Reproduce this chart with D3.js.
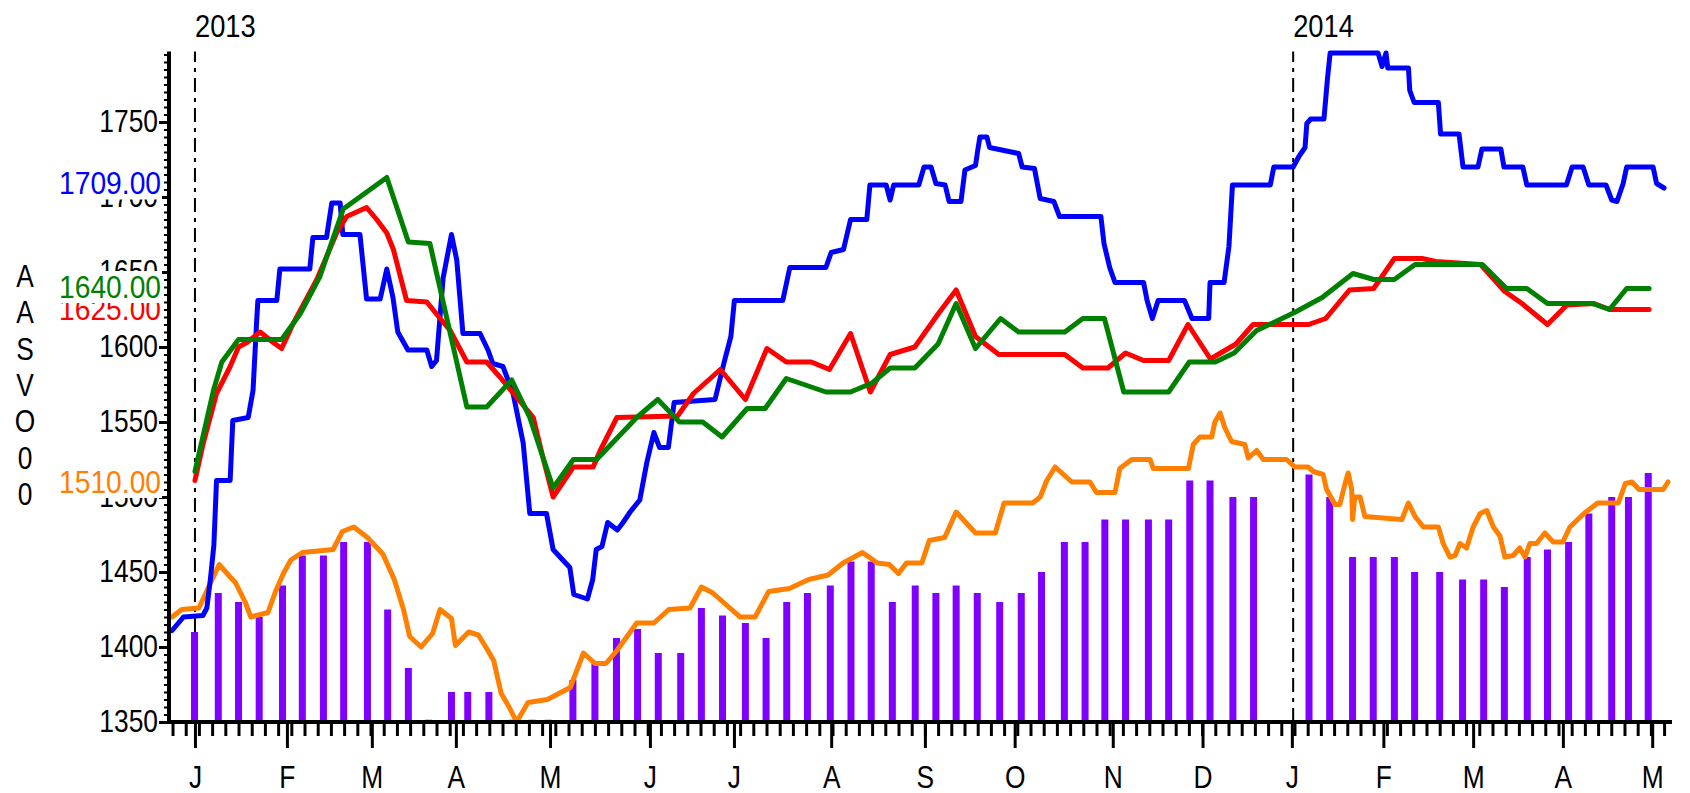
<!DOCTYPE html>
<html>
<head>
<meta charset="utf-8">
<script src="https://cdn.jsdelivr.net/npm/d3@7/dist/d3.min.js"></script>
<style>
body { margin: 0; background: #fff; }
svg text { font-family: "Liberation Sans", Arial, sans-serif; }
</style>
</head>
<body>
<svg id="svg" width="1690" height="793"></svg>
<script>
// x values are trading-day positions, y values are prices on the left scale

var monthPos = [5.9, 26.8, 46.1, 65.2, 86.6, 109.3, 128.4, 150.5, 171.8, 192.2, 214.5, 234.9, 255.2, 276.0, 296.4, 316.8, 337.1];
var monthLabels = ["J", "F", "M", "A", "M", "J", "J", "A", "S", "O", "N", "D", "J", "F", "M", "A", "M"];
var yearPos = [5.9, 255.5];
var yearLabels = ["2013", "2014"];
var yTicks = [1350, 1400, 1450, 1500, 1550, 1600, 1650, 1700, 1750];

var labelValues = [1625, 1709, 1510, 1640];
var labelTexts = ["1625.00", "1709.00", "1510.00", "1640.00"];
var labelColors = ["#ff0000", "#0000ff", "#ff8000", "#008000"];
var sideLetters = ["A", "A", "S", "V", "O", "0", "0"];

var blue = [[0.7,1411],[3.0,1419],[3.3,1420],[7.7,1421],[8.6,1426],[9.4,1445],[10.2,1468],[10.8,1511],[13.9,1511],[14.5,1551],[18.0,1553],[19.1,1571],[19.9,1616],[20.2,1631],[24.5,1631],[25.2,1652],[32.0,1652],[32.7,1673],[35.8,1673],[37.0,1696],[38.9,1696],[39.5,1675],[43.4,1675],[44.9,1632],[48.0,1632],[49.5,1652],[50.9,1633],[52.0,1610],[54.3,1598],[58.6,1598],[59.7,1587],[60.8,1591],[62.3,1646],[64.2,1675],[65.4,1658],[66.8,1609],[70.7,1609],[72.5,1598],[73.6,1589],[75.9,1587],[78.2,1569],[80.5,1536],[82.0,1489],[85.8,1489],[87.3,1465],[89.5,1458],[91.1,1453],[92.0,1435],[95.1,1432],[96.3,1445],[97.1,1465],[98.4,1467],[99.7,1483],[101.9,1478],[103.2,1483],[104.8,1490],[107.0,1498],[108.6,1523],[110.2,1543],[111.5,1533],[113.5,1533],[114.8,1563],[124.1,1565],[126.1,1589],[127.7,1607],[128.5,1631],[139.5,1631],[141.1,1653],[149.3,1653],[150.5,1663],[153.3,1665],[154.9,1685],[158.6,1685],[159.3,1708],[163.0,1708],[163.9,1698],[164.7,1708],[170.4,1708],[171.6,1720],[173.2,1720],[174.3,1709],[176.4,1708],[177.3,1697],[180.0,1697],[180.9,1718],[183.3,1721],[183.8,1731],[184.3,1740],[185.9,1740],[186.5,1733],[193.1,1729],[193.9,1720],[196.7,1719],[198.0,1699],[201.1,1697],[202.4,1687],[211.8,1687],[212.5,1669],[213.8,1653],[215.0,1643],[221.5,1643],[222.3,1631],[223.5,1619],[224.8,1631],[230.8,1631],[232.5,1619],[236.3,1619],[236.6,1643],[239.8,1643],[240.9,1667],[241.7,1708],[250.3,1708],[251.1,1720],[255.5,1720],[256.8,1727],[258.2,1733],[258.6,1749],[259.5,1752],[262.5,1752],[263.3,1779],[263.9,1796],[274.8,1796],[275.7,1787],[276.6,1796],[277.0,1786],[281.7,1786],[282.0,1771],[283.0,1763],[288.5,1763],[289.0,1742],[293.2,1742],[294.1,1720],[297.5,1720],[298.4,1732],[302.7,1732],[303.4,1720],[307.7,1720],[308.6,1708],[317.6,1708],[318.9,1720],[321.4,1720],[322.7,1708],[326.6,1708],[327.9,1698],[329.1,1697],[330.5,1709],[331.3,1720],[337.3,1720],[338.1,1709],[339.8,1706]];

var red = [[5.9,1511],[7.8,1536],[10.8,1569],[13.9,1587],[15.8,1600],[17.7,1603],[20.7,1610],[23.7,1603],[25.6,1599],[28.3,1616],[33.6,1645],[38.1,1676],[40.4,1687],[44.9,1693],[47.2,1685],[49.5,1676],[51.0,1665],[54.0,1631],[58.6,1630],[60.8,1622],[63.9,1611],[67.7,1590],[72.2,1590],[75.2,1580],[78.3,1569],[82.8,1553],[85.1,1525],[87.3,1500],[91.9,1520],[96.4,1520],[98.0,1531],[101.8,1553],[115.6,1554],[119.2,1569],[125.3,1585],[131.0,1565],[135.9,1599],[140.3,1590],[146.0,1590],[150.1,1585],[154.9,1609],[159.4,1570],[163.9,1595],[169.5,1600],[174.8,1622],[178.9,1638],[183.3,1607],[188.6,1595],[203.6,1595],[207.7,1586],[213.4,1586],[217.4,1596],[221.5,1591],[227.2,1591],[231.6,1615],[236.7,1592],[242.5,1602],[246.4,1615],[259.0,1615],[262.9,1619],[268.3,1638],[273.8,1639],[278.5,1659],[284.8,1659],[287.9,1657],[298.1,1655],[303.6,1637],[307.5,1629],[313.3,1615],[317.7,1628],[323.9,1629],[327.4,1625],[336.4,1625]];

var green = [[5.9,1517],[10.1,1571],[12.0,1590],[15.8,1605],[25.6,1605],[29.8,1622],[34.3,1647],[39.6,1692],[49.5,1713],[54.4,1670],[59.3,1669],[67.7,1560],[72.2,1560],[77.9,1578],[82.0,1553],[87.3,1506],[91.9,1525],[97.2,1525],[106.3,1553],[111.1,1565],[116.0,1550],[121.3,1550],[125.7,1540],[131.4,1559],[135.5,1559],[140.3,1579],[149.3,1570],[154.9,1570],[159.8,1576],[163.9,1586],[169.5,1586],[174.8,1602],[178.9,1629],[183.3,1599],[189.0,1619],[193.1,1610],[203.6,1610],[207.7,1619],[212.6,1619],[217.0,1570],[227.2,1570],[231.9,1590],[237.8,1590],[242.1,1596],[247.2,1611],[255.8,1623],[262.1,1633],[269.1,1649],[273.8,1645],[278.5,1645],[283.2,1655],[298.5,1655],[304.0,1639],[308.6,1639],[313.3,1629],[323.5,1629],[327.4,1625],[331.3,1639],[336.4,1639]];

var orange = [[0.7,1420],[2.9,1425],[6.8,1426],[9.0,1440],[11.4,1455],[13.8,1447],[15.1,1443],[17.3,1430],[18.6,1420],[22.5,1423],[24.2,1437],[26.0,1449],[27.7,1458],[30.3,1463],[37.3,1465],[39.4,1477],[42.0,1480],[45.1,1473],[48.6,1462],[51.2,1445],[53.3,1425],[54.7,1407],[57.3,1400],[59.9,1409],[61.6,1425],[64.2,1419],[65.1,1401],[68.1,1410],[70.3,1408],[72.0,1400],[73.8,1391],[75.5,1369],[77.3,1360],[79.0,1350],[81.6,1363],[86.0,1365],[88.6,1369],[91.2,1373],[94.2,1396],[96.8,1389],[99.3,1389],[101.9,1398],[106.3,1416],[110.2,1416],[113.6,1425],[118.4,1426],[121.0,1440],[123.6,1436],[126.3,1429],[129.8,1420],[133.2,1420],[136.3,1437],[141.0,1439],[145.4,1445],[149.8,1448],[153.2,1456],[157.6,1463],[161.0,1456],[163.7,1455],[165.8,1449],[167.6,1456],[171.1,1456],[172.8,1471],[176.3,1473],[178.9,1490],[183.3,1476],[187.8,1476],[189.8,1496],[196.3,1496],[198.0,1500],[199.5,1511],[201.4,1520],[205.2,1510],[209.3,1510],[210.8,1503],[215.0,1503],[216.1,1519],[218.8,1525],[223.0,1525],[223.7,1519],[231.7,1519],[232.8,1535],[234.3,1540],[237.0,1540],[237.7,1550],[238.9,1556],[240.0,1546],[241.5,1537],[244.5,1535],[245.3,1526],[247.2,1531],[248.7,1525],[254.0,1525],[255.9,1520],[258.9,1520],[260.1,1517],[262.3,1515],[263.1,1505],[265.0,1495],[266.1,1495],[267.3,1509],[268.0,1516],[268.8,1505],[269.0,1485],[269.5,1500],[270.7,1500],[271.8,1487],[280.2,1485],[281.7,1496],[283.2,1487],[285.1,1480],[288.5,1480],[289.6,1469],[291.1,1460],[292.3,1461],[293.4,1469],[294.9,1466],[296.4,1480],[298.0,1489],[299.5,1491],[301.0,1480],[302.5,1474],[303.6,1460],[305.5,1461],[307.0,1466],[308.2,1460],[309.3,1469],[310.8,1469],[312.7,1476],[314.6,1470],[316.8,1470],[318.4,1480],[321.6,1489],[324.7,1496],[329.4,1496],[331.0,1509],[332.5,1510],[334.1,1505],[339.6,1505],[340.7,1510]];

// weekly bars, own scale starting at the bottom axis
var barPos = [5.8, 11.2, 15.8, 20.5, 25.8, 30.3, 35.1, 39.7, 45.1, 49.7, 54.4, 59.0, 64.2, 67.9, 72.7, 78.0, 82.5, 86.2, 91.8, 96.8, 101.7, 106.5, 111.2, 116.3, 121.0, 125.8, 131.0, 135.7, 140.4, 145.1, 150.3, 155.0, 159.6, 164.4, 169.6, 174.3, 178.9, 183.7, 188.8, 193.7, 198.3, 203.5, 208.2, 212.7, 217.4, 222.6, 227.2, 232.0, 236.6, 241.8, 246.5, 259.1, 263.8, 269.0, 273.7, 278.5, 283.1, 288.8, 294.0, 298.8, 303.5, 308.7, 313.3, 318.1, 322.7, 327.9, 331.7, 336.2];
var barVal = [60, 86, 80, 70, 91, 111, 111, 120, 120, 75, 36, 1.5, 20, 20, 20, 1.5, 1.5, 1.5, 28, 39, 56, 62, 46, 46, 76, 71, 66, 56, 80, 86, 91, 107, 107, 80, 91, 86, 91, 86, 80, 86, 100, 120, 120, 135, 135, 135, 135, 161, 161, 150, 150, 165, 150, 110, 110, 110, 100, 100, 95, 95, 90, 110, 115, 120, 139, 150, 150, 166];

var svg = d3.select("#svg");
var fontSize = 31;
var squeeze = 0.85;   // the original uses a narrow face

var x = d3.scaleLinear().domain([0, 341.6]).range([169, 1672]);
var y = d3.scaleLinear().domain([1350, 1800]).range([722, 47]);
var barY = d3.scaleLinear().domain([0, 450]).range([722, 47]);

// place a text at (px,py) squeezed horizontally
function narrowText(sel, px, py, sx) {
    sel.attr("transform", function(d, i) {
        return "translate(" + px(d, i) + "," + py(d, i) + ") scale(" + sx + ",1)";
    });
}

// year separators
svg.append("g").selectAll("line")
    .data(yearPos)
    .enter()
    .append("line")
    .attr("x1", function(d) { return x(d); })
    .attr("x2", function(d) { return x(d); })
    .attr("y1", y(1350))
    .attr("y2", y(1797))
    .attr("stroke", "#000")
    .attr("stroke-width", 2)
    .attr("stroke-dasharray", "14,6,4,6");

svg.append("g").selectAll("text")
    .data(yearPos)
    .enter()
    .append("text")
    .attr("font-size", fontSize)
    .attr("fill", "#000")
    .text(function(d, i) { return yearLabels[i]; })
    .call(narrowText, function(d) { return x(d); }, function() { return 37; }, 0.88);

// bars
svg.append("g").selectAll("rect")
    .data(d3.zip(barPos, barVal))
    .enter()
    .append("rect")
    .attr("x", function(d) { return x(d[0]) - 3.5; })
    .attr("width", 7)
    .attr("y", function(d) { return barY(d[1]); })
    .attr("height", function(d) { return barY(0) - barY(d[1]); })
    .attr("fill", "#8000ff");

var line = d3.line()
    .x(function(d) { return x(d[0]); })
    .y(function(d) { return y(d[1]); });

var series = [[orange, "#ff8000"], [blue, "#0000ff"], [red, "#ff0000"], [green, "#008000"]];
series.forEach(function(s) {
    svg.append("path")
        .datum(s[0])
        .attr("d", line)
        .attr("fill", "none")
        .attr("stroke", s[1])
        .attr("stroke-width", 5)
        .attr("stroke-linejoin", "round")
        .attr("stroke-linecap", "round");
});

// y axis
var yMinor = d3.range(1355, 1800, 5);
svg.append("g")
    .attr("transform", "translate(169,0)")
    .call(d3.axisLeft(y).tickValues(yMinor).tickSize(5).tickFormat(""))
    .call(function(g) { g.select(".domain").remove(); })
    .selectAll("line").attr("stroke-width", 2);

var yAxis = svg.append("g")
    .attr("transform", "translate(169,0)")
    .call(d3.axisLeft(y).tickValues(yTicks).tickSize(10).tickPadding(3).tickFormat(d3.format("d")))
    .call(function(g) { g.select(".domain").remove(); });
yAxis.attr("font-size", fontSize);
yAxis.selectAll("line").attr("stroke-width", 3);
yAxis.selectAll("text").attr("transform", "scale(" + squeeze + ",1)");

svg.append("line")
    .attr("x1", 169).attr("x2", 169)
    .attr("y1", y(1350) + 2).attr("y2", y(1797))
    .attr("stroke", "#000").attr("stroke-width", 4);

// x axis
svg.append("g")
    .attr("transform", "translate(0,722)")
    .call(d3.axisBottom(x).tickValues(d3.range(0.8, 341, 3)).tickSize(14).tickFormat(""))
    .call(function(g) { g.select(".domain").remove(); })
    .selectAll("line").attr("stroke-width", 3);

var xAxis = svg.append("g")
    .attr("transform", "translate(0,722)")
    .call(d3.axisBottom(x).tickValues(monthPos).tickSize(26).tickPadding(18)
        .tickFormat(function(d, i) { return monthLabels[i]; }))
    .call(function(g) { g.select(".domain").remove(); });
xAxis.attr("font-size", fontSize);
xAxis.selectAll("line").attr("stroke-width", 3);
xAxis.selectAll("text").attr("transform", "scale(" + squeeze + ",1)");

svg.append("line")
    .attr("x1", 167).attr("x2", x(341.6))
    .attr("y1", 722).attr("y2", 722)
    .attr("stroke", "#000").attr("stroke-width", 4);

// last value labels
labelValues.forEach(function(v, i) {
    svg.append("rect")
        .attr("x", 54).attr("width", 108)
        .attr("y", y(v) - 16).attr("height", 32)
        .attr("fill", "#fff");
    svg.append("text")
        .datum(v)
        .attr("dy", "0.35em")
        .attr("text-anchor", "end")
        .attr("font-size", fontSize)
        .attr("fill", labelColors[i])
        .text(labelTexts[i])
        .call(narrowText, function() { return 161; }, function(d) { return y(d); }, 0.91);
});

// vertical caption on the left
svg.append("g").selectAll("text")
    .data(sideLetters)
    .enter()
    .append("text")
    .attr("dy", "0.35em")
    .attr("text-anchor", "middle")
    .attr("font-size", fontSize)
    .attr("fill", "#000")
    .text(function(d) { return d; })
    .call(narrowText, function() { return 25; }, function(d, i) { return 276 + i * 36.4; }, squeeze);
</script>
</body>
</html>
